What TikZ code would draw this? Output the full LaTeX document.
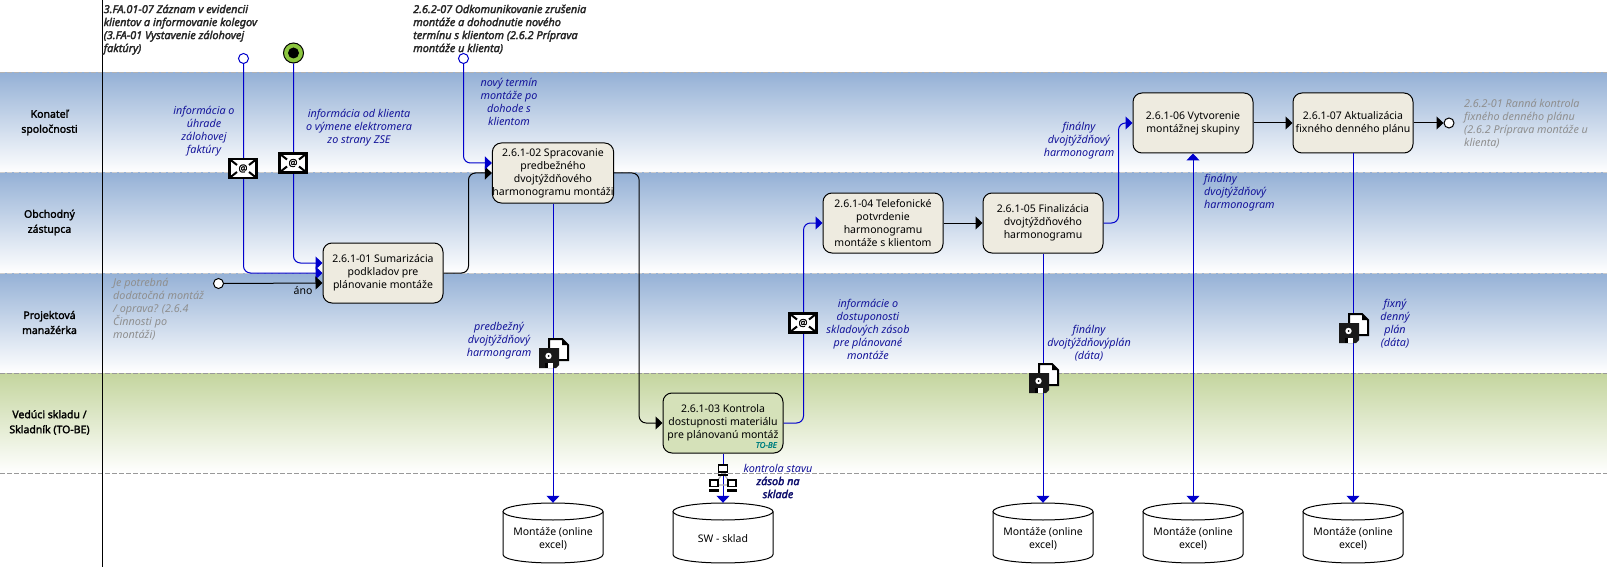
\documentclass[tikz,border=0pt]{standalone}
\usepackage{fontspec}
\setmainfont{Noto Sans}
\newfontfamily\smearfont[FakeBold=2.4]{Noto Sans}
\newfontfamily\lanefont[FakeBold=2]{Noto Sans}
\usetikzlibrary{arrows.meta,calc}
\definecolor{bandblue}{HTML}{95B1D6}
\definecolor{bandgreen}{HTML}{C4D59E}
\definecolor{flowblue}{HTML}{0000CC}
\definecolor{labelblue}{HTML}{14149A}
\definecolor{boxfill}{HTML}{EEEBE0}
\definecolor{boxgreen}{HTML}{D5E1B9}
\definecolor{notegray}{HTML}{8F8F8F}
\definecolor{startgreen}{HTML}{8CC63F}
\tikzset{
  base/.style={font=\fontsize{10.5}{13}\selectfont,inner sep=0pt,align=center},
  taskbox/.style={base,draw=black,line width=1pt,fill=boxfill,rounded corners=9pt,minimum width=120pt,minimum height=60pt,text=black},
  dbnode/.style={base,minimum width=100pt,minimum height=72pt},
  dbshape/.pic={
    \draw[line width=1pt,fill=white] (-50,-27.5) -- (-50,15.5) .. controls (-50,26.8) and (50,26.8) .. (50,15.5) -- (50,-27.5);
    \draw[line width=1pt,fill=white] (0,-27.5) circle [x radius=50,y radius=8.5];
  },
  lanelabel/.style={base,font=\fontsize{10.5}{15}\selectfont\lanefont},
  msg/.style={base,text=labelblue,font=\fontsize{10.8}{13}\selectfont\itshape},
  msgleft/.style={msg,align=left,anchor=west},
  grayleft/.style={base,text=notegray,font=\fontsize{10.8}{13}\selectfont\itshape,align=left,anchor=west},
  smear/.style={base,text=black!85,font=\fontsize{10.9}{13}\selectfont\smearfont\itshape,align=left,anchor=north west},
  smearblue/.style={base,text=labelblue!70!black,font=\fontsize{10.8}{13}\selectfont\smearfont\itshape},
  flow/.style={draw=black,line width=1pt,rounded corners=7pt,-{Triangle[length=7pt,width=13pt]}},
  bflow/.style={flow,draw=flowblue,color=flowblue},
  bandsep/.style={line width=1pt,dash pattern=on 5pt off 2pt},
  bevent/.style={circle,draw=flowblue,fill=white,line width=1pt,minimum size=10pt,inner sep=0pt},
  kevent/.style={circle,draw=black,fill=white,line width=1pt,minimum size=10pt,inner sep=0pt},
  mailicon/.pic={
    \draw[line width=2.5pt,fill=white] (-13.5,-9.5) rectangle (13.5,9.5);
    \draw[line width=2pt] (-13,-9) -- (-6,-3.5) (13,-9) -- (6,-3.5) (-13,9) -- (-6,3.5) (13,9) -- (6,3.5);
    \node[inner sep=0pt,font=\fontsize{10}{10}\selectfont\lanefont] (-t) at (0,0) {@};
  },
  diskicon/.pic={
    \draw[line width=2pt,fill=white] (10,1) -- (23,1) -- (29,7) -- (29,22) -- (10,22) -- cycle;
    \fill (23,1) -- (23,7) -- (29,7) -- cycle;
    \fill[black!90] (0,10) -- (20,10) -- (20,27) -- (17,30) -- (0,30) -- cycle;
    \fill[white] (9.5,18) circle (3.2pt);
    \fill[black] (9.5,18) circle (1pt);
    \fill[white] (6,25) rectangle (14,30);
    \fill[black] (6,25) rectangle (9,30);
  },
  neticon/.pic={
    \draw[black!30,line width=1.2pt] (0,-5) -- (-9,7) -- (9,7) -- cycle;
    \draw[line width=1.6pt,fill=white] (-4.5,-13) rectangle (4.5,-6);
    \fill (-5,-4.5) rectangle (5,-2);
    \draw[line width=1.6pt,fill=white] (-13,2) rectangle (-5,8.5);
    \fill (-14,11) rectangle (-4,14);
    \draw[line width=1.6pt,fill=white] (5,2) rectangle (13,8.5);
    \fill (4,11) rectangle (14,14);
  }
}
\begin{document}
\begin{tikzpicture}[x=1pt,y=-1pt]
\useasboundingbox (0,0) rectangle (1607,567);
\fill[white] (0,0) rectangle (1607,567);
% lanes
\shade[top color=bandblue,bottom color=white] (0,73) rectangle (1607,173);
\shade[top color=bandblue,bottom color=white] (0,173) rectangle (1607,273);
\shade[top color=bandblue,bottom color=white] (0,273) rectangle (1607,373);
\shade[top color=bandgreen,bottom color=white] (0,373) rectangle (1607,473);
\draw[bandsep,draw=black!30] (0,73) -- (1607,73);
\draw[bandsep,draw=black!20] (0,173) -- (1607,173);
\draw[bandsep,draw=black!20] (0,273) -- (1607,273);
\draw[bandsep,draw=black!40] (0,373) -- (1607,373);
\draw[bandsep,draw=black!40] (0,473) -- (1607,473);
\draw[line width=1pt] (102.5,0) -- (102.5,567);
\node[lanelabel] (l1) at (49.5,122.5) {Konateľ\\spoločnosti};
\node[lanelabel] (l2) at (49.5,222.5) {Obchodný\\zástupca};
\node[lanelabel] (l3) at (49.5,322.5) {Projektová\\manažérka};
\node[lanelabel] (l4) at (49.5,422.5) {Vedúci skladu /\\Skladník (TO-BE)};
% tasks
\node[taskbox] (n1) at (383,273) {2.6.1-01 Sumarizácia\\podkladov pre\\plánovanie montáže};
\node[taskbox] (n2) at (553,173) {2.6.1-02 Spracovanie\\predbežného\\dvojtýždňového\\harmonogramu montáži};
\node[taskbox,fill=boxgreen] (n3) at (723,423) {2.6.1-03 Kontrola\\dostupnosti materiálu\\pre plánovanú montáž};
\node[taskbox] (n4) at (883,223) {2.6.1-04 Telefonické\\potvrdenie\\harmonogramu\\montáže s klientom};
\node[taskbox] (n5) at (1043,223) {2.6.1-05 Finalizácia\\dvojtýždňového\\harmonogramu};
\node[taskbox] (n6) at (1193,123) {2.6.1-06 Vytvorenie\\montážnej skupiny};
\node[taskbox] (n7) at (1353,123) {2.6.1-07 Aktualizácia\\fixného denného plánu};
\node[base,anchor=east,text=teal,font=\fontsize{8}{9}\selectfont\lanefont\itshape] (tb) at (777,445) {TO-BE};
% stores
\pic at (553,539) {dbshape};
\pic at (723,539) {dbshape};
\pic at (1043,539) {dbshape};
\pic at (1193,539) {dbshape};
\pic at (1353,539) {dbshape};
\node[dbnode] (d1) at (553,539) {Montáže (online\\excel)};
\node[dbnode] (d2) at (723,539) {SW - sklad};
\node[dbnode] (d3) at (1043,539) {Montáže (online\\excel)};
\node[dbnode] (d4) at (1193,539) {Montáže (online\\excel)};
\node[dbnode] (d5) at (1353,539) {Montáže (online\\excel)};
% events
\node[bevent] (e1) at (243.5,58.5) {};
\node[bevent] (e2) at (463.5,58.5) {};
\node[circle,draw=black,line width=1pt,fill=startgreen,minimum size=20pt,inner sep=0pt] (s1) at (293.5,53) {};
\node[circle,fill=black,minimum size=11pt,inner sep=0pt] (s1c) at (s1) {};
\node[kevent] (e3) at (218.5,283.5) {};
\node[kevent] (e4) at (1449,123) {};
% connectors
\draw[bflow] (e1.south) |- (n1.west);
\draw[bflow] (s1.south) |- ([yshift=10pt]n1.west);
\draw[flow] (e3.east) -- ([yshift=-10pt]n1.west);
\draw[flow] (n1.east) -- ++(25,0) |- (n2.west);
\draw[bflow] (e2.south) |- ([yshift=10pt]n2.west);
\draw[flow] (n2.east) -- ++(25,0) |- (n3.west);
\draw[bflow] (n2.south) -- (d1.north);
\draw[bflow] (n3.south) -- (d2.north);
\draw[bflow] (n3.east) -- ++(20,0) |- (n4.west);
\draw[flow] (n4.east) -- (n5.west);
\draw[bflow] (n5.east) -- ++(15,0) |- (n6.west);
\draw[bflow] (n5.south) -- (d3.north);
\draw[bflow,{Triangle[length=7pt,width=13pt]}-{Triangle[length=7pt,width=13pt]}] (n6.south) -- (d4.north);
\draw[flow] (n6.east) -- (n7.west);
\draw[flow] (n7.east) -- (e4.west);
\draw[bflow] (n7.south) -- (d5.north);
% icons
\pic (m1) at (243,168.5) {mailicon};
\pic (m2) at (293,163) {mailicon};
\pic (m3) at (803,323) {mailicon};
\pic at (539,338) {diskicon};
\pic at (1029,363) {diskicon};
\pic at (1339,313) {diskicon};
\pic at (723,478) {neticon};
% labels
\node[smear] (t1) at (103.5,4.5) {3.FA.01-07 Záznam v evidencii\\klientov a informovanie kolegov\\(3.FA-01 Vystavenie zálohovej\\faktúry)};
\node[smear] (t2) at (413,4.5) {2.6.2-07 Odkomunikovanie zrušenia\\montáže a dohodnutie nového\\termínu s klientom (2.6.2 Príprava\\montáže u klienta)};
\node[msg] (a1) at (204,131.5) {informácia o\\úhrade\\zálohovej\\faktúry};
\node[msg] (a2) at (359,128) {informácia od klienta\\o výmene elektromera\\zo strany ZSE};
\node[msg] (a3) at (509,101.5) {nový termín\\montáže po\\dohode s\\klientom};
\node[grayleft] (a4) at (113,309) {Je potrebná\\dodatočná montáž\\/ oprava? (2.6.4\\Činnosti po\\montáži)};
\node[base] (a5) at (303,291) {áno};
\node[msg] (a6) at (499,341) {predbežný\\dvojtýždňový\\harmongram};
\node[msg] (a7) at (868,329) {informácie o\\dostuponosti\\skladových zásob\\pre plánované\\montáže};
\node[msg] (a8) at (778,468) {kontrola stavu};
\node[smearblue] (a9) at (778,487.5) {zásob na\\sklade};
\node[msg] (a10) at (1079,141) {finálny\\dvojtýždňový\\harmonogram};
\node[msgleft] (a11) at (1204,193) {finálny\\dvojtýždňový\\harmonogram};
\node[msg] (a12) at (1089,343) {finálny\\dvojtýždňovýplán\\(dáta)};
\node[msg] (a13) at (1395,324) {fixný\\denný\\plán\\(dáta)};
\node[grayleft] (a14) at (1464,123.5) {2.6.2-01 Ranná kontrola\\fixného denného plánu\\(2.6.2 Príprava montáže u\\klienta)};
\end{tikzpicture}
\end{document}
